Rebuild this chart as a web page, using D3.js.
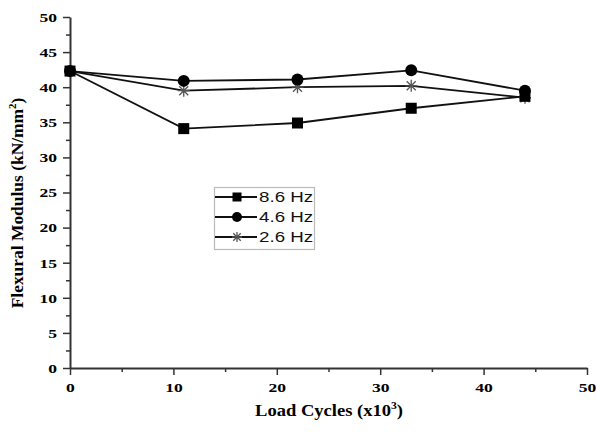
<!DOCTYPE html>
<html>
<head>
<meta charset="utf-8">
<script src="https://cdn.jsdelivr.net/npm/d3@7"></script>
<style>
  html, body { margin: 0; padding: 0; background: #fff; }
  svg { display: block; }
</style>
</head>
<body>
<svg id="chart" width="597" height="434"></svg>
<script>
// Load cycles (x10^3)
const cycles = [0, 11, 22, 33, 44];
// Flexural modulus (kN/mm^2) for each loading frequency
const hz86 = [42.3, 34.1, 34.9, 37.0, 38.7];
const hz46 = [42.3, 40.9, 41.1, 42.4, 39.5];
const hz26 = [42.3, 39.5, 40.0, 40.2, 38.5];
const seriesNames = ["8.6 Hz", "4.6 Hz", "2.6 Hz"];
const xTicks = [0, 10, 20, 30, 40, 50];
const yTicks = [0, 5, 10, 15, 20, 25, 30, 35, 40, 45, 50];

const series = [
  { name: seriesNames[0], values: hz86, symbol: "square" },
  { name: seriesNames[1], values: hz46, symbol: "circle" },
  { name: seriesNames[2], values: hz26, symbol: "star" }
];

const svg = d3.select("#chart");
const plotLeft = 70, plotRight = 587, plotTop = 17, plotBottom = 368;

const x = d3.scaleLinear().domain([0, 50]).range([plotLeft, plotRight]);
const y = d3.scaleLinear().domain([0, 50]).range([plotBottom, plotTop]);

const serif = "'Liberation Serif', 'Times New Roman', serif";
const sans = "'Liberation Sans', Arial, sans-serif";
const widen = 1.3;   // horizontal stretch applied to the lettering

// Minor ticks
svg.append("g")
  .attr("transform", `translate(0,${plotBottom})`)
  .call(d3.axisBottom(x).tickValues([5, 15, 25, 35, 45]).tickSize(4).tickFormat(""))
  .call(g => g.select(".domain").remove())
  .call(g => g.selectAll("line").attr("stroke", "#333").attr("stroke-width", 1.5));
svg.append("g")
  .attr("transform", `translate(${plotLeft},0)`)
  .call(d3.axisLeft(y).tickValues(d3.range(2.5, 50, 5)).tickSize(4).tickFormat(""))
  .call(g => g.select(".domain").remove())
  .call(g => g.selectAll("line").attr("stroke", "#333").attr("stroke-width", 1.5));

// Major axes
const xAxis = svg.append("g")
  .attr("transform", `translate(0,${plotBottom})`)
  .call(d3.axisBottom(x).tickValues(xTicks).tickSize(7).tickSizeOuter(0).tickPadding(7));
const yAxis = svg.append("g")
  .attr("transform", `translate(${plotLeft},0)`)
  .call(d3.axisLeft(y).tickValues(yTicks).tickSize(7).tickSizeOuter(0).tickPadding(6));

[xAxis, yAxis].forEach(g => {
  g.select(".domain").attr("stroke", "#333").attr("stroke-width", 2);
  g.selectAll(".tick line").attr("stroke", "#333").attr("stroke-width", 1.5);
  g.selectAll(".tick text")
    .attr("fill", "#000")
    .style("font-family", serif)
    .style("font-weight", "bold")
    .style("font-size", "13.5px");
});
// Stretch tick labels horizontally about their anchor points
xAxis.selectAll(".tick text").attr("transform", `scale(${widen},1)`);
yAxis.selectAll(".tick text").each(function () {
  const t = d3.select(this);
  const tx = +t.attr("x");
  t.attr("x", 0).attr("transform", `translate(${tx},0) scale(${widen},1)`);
});

// Axis titles
const xt = svg.append("text")
  .attr("transform", `translate(${(plotLeft + plotRight) / 2 + 0.5},416) scale(1.16,1)`)
  .attr("text-anchor", "middle")
  .style("font-family", serif)
  .style("font-weight", "bold")
  .style("font-size", "16px")
  .attr("fill", "#000");
xt.append("tspan").text("Load Cycles (x10");
xt.append("tspan").attr("font-size", "10px").attr("dy", -7).text("3");
xt.append("tspan").attr("dy", 7).text(")");

const yt = svg.append("text")
  .attr("transform", `translate(23,203) rotate(-90) scale(1.09,1)`)
  .attr("text-anchor", "middle")
  .style("font-family", serif)
  .style("font-weight", "bold")
  .style("font-size", "16px")
  .attr("fill", "#000");
yt.append("tspan").text("Flexural Modulus (kN/mm");
yt.append("tspan").attr("font-size", "10px").attr("dy", -7).text("2");
yt.append("tspan").attr("dy", 7).text(")");

// Lines
const line = d3.line().x((d, i) => x(cycles[i])).y(d => y(d));
series.forEach(s => {
  svg.append("path")
    .datum(s.values)
    .attr("fill", "none")
    .attr("stroke", "#111")
    .attr("stroke-width", 1.8)
    .attr("d", line);
});

// Marker drawing
function drawSymbol(g, type, cx, cy, size) {
  const h = size / 2;
  if (type === "square") {
    g.append("rect").attr("x", cx - h).attr("y", cy - h).attr("width", size).attr("height", size).attr("fill", "#000");
  } else if (type === "circle") {
    g.append("circle").attr("cx", cx).attr("cy", cy).attr("r", h + 0.5).attr("fill", "#000");
  } else {
    const r = h + 0.5;
    const p = d3.path();
    p.moveTo(cx - r, cy); p.lineTo(cx + r, cy);
    p.moveTo(cx - r * 0.75, cy - r * 0.75); p.lineTo(cx + r * 0.75, cy + r * 0.75);
    p.moveTo(cx - r * 0.75, cy + r * 0.75); p.lineTo(cx + r * 0.75, cy - r * 0.75);
    p.moveTo(cx, cy - r); p.lineTo(cx, cy + r);
    g.append("path").attr("d", p.toString()).attr("stroke", "#555").attr("stroke-width", 1.3).attr("fill", "none");
  }
}

// Markers (star series drawn first so filled markers sit above)
[series[2], series[0], series[1]].forEach(s => {
  const g = svg.append("g");
  s.values.forEach((v, i) => drawSymbol(g, s.symbol, x(cycles[i]), y(v), 11));
});

// Legend
const lg = svg.append("g");
lg.append("rect")
  .attr("x", 214.5).attr("y", 187.5).attr("width", 100).attr("height", 62)
  .attr("fill", "#fff").attr("stroke", "#bbb").attr("stroke-width", 1.2);
series.forEach((s, i) => {
  const cy = 197 + i * 20;
  lg.append("line").attr("x1", 215).attr("x2", 257).attr("y1", cy).attr("y2", cy)
    .attr("stroke", "#111").attr("stroke-width", 1.8);
  drawSymbol(lg, s.symbol, 237, cy, 9);
  lg.append("text")
    .attr("transform", `translate(259,${cy}) scale(1.25,1)`)
    .attr("dy", "0.36em")
    .style("font-family", sans).style("font-size", "15px")
    .attr("fill", "#111").text(s.name);
});
</script>
</body>
</html>
